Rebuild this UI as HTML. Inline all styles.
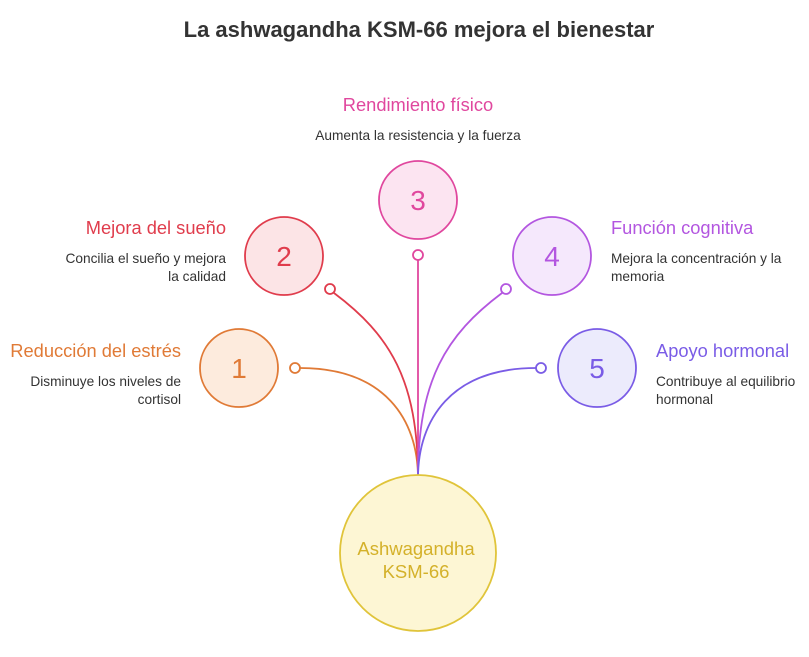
<!DOCTYPE html>
<html><head><meta charset="utf-8"><style>
body{margin:0;background:#fff;}
svg text{font-family:"Liberation Sans",Arial,sans-serif;}
</style></head><body>
<svg width="809" height="652" viewBox="0 0 809 652" xmlns="http://www.w3.org/2000/svg">
<text x="419" y="37" text-anchor="middle" font-size="22" font-weight="bold" fill="#333">La ashwagandha KSM-66 mejora el bienestar</text>
<g fill="none" stroke-width="1.8">
<path d="M300,368 C385,368 418,420 418,478" stroke="#e07a36"/>
<path d="M334,293 C390,335 418,380 418,478" stroke="#e03c4c"/>
<path d="M418,260 L418,478" stroke="#e0479e"/>
<path d="M502,293 C446,335 418,380 418,478" stroke="#b356e0"/>
<path d="M536,368 C451,368 418,420 418,478" stroke="#7a5ce6"/>
</g>
<circle cx="295" cy="368" r="5" fill="#fff" stroke="#e07a36" stroke-width="1.8"/>
<circle cx="330" cy="289" r="5" fill="#fff" stroke="#e03c4c" stroke-width="1.8"/>
<circle cx="418" cy="255" r="5" fill="#fff" stroke="#e0479e" stroke-width="1.8"/>
<circle cx="506" cy="289" r="5" fill="#fff" stroke="#b356e0" stroke-width="1.8"/>
<circle cx="541" cy="368" r="5" fill="#fff" stroke="#7a5ce6" stroke-width="1.8"/>
<circle cx="239" cy="368" r="39" fill="#fdebdd" stroke="#e07a36" stroke-width="1.8"/>
<circle cx="284" cy="256" r="39" fill="#fce4e6" stroke="#e03c4c" stroke-width="1.8"/>
<circle cx="418" cy="200" r="39" fill="#fce4f1" stroke="#e0479e" stroke-width="1.8"/>
<circle cx="552" cy="256" r="39" fill="#f5e8fc" stroke="#b356e0" stroke-width="1.8"/>
<circle cx="597" cy="368" r="39" fill="#ecebfc" stroke="#7a5ce6" stroke-width="1.8"/>
<circle cx="418" cy="553" r="78" fill="#fdf6d4" stroke="#e0c43a" stroke-width="1.8"/>
<g font-size="28" text-anchor="middle">
<text x="239" y="378" fill="#e07a36">1</text>
<text x="284" y="266" fill="#e03c4c">2</text>
<text x="418" y="210" fill="#e0479e">3</text>
<text x="552" y="266" fill="#b356e0">4</text>
<text x="597" y="378" fill="#7a5ce6">5</text>
</g>
<g font-size="18.5" fill="#d4b12a" text-anchor="middle">
<text x="416" y="555">Ashwagandha</text>
<text x="416" y="578">KSM-66</text>
</g>
<g font-size="18.3">
<text x="181" y="357" text-anchor="end" fill="#e07a36">Reducción del estrés</text>
<text x="226" y="234" text-anchor="end" fill="#e03c4c">Mejora del sueño</text>
<text x="418" y="111" text-anchor="middle" fill="#e0479e">Rendimiento físico</text>
<text x="611" y="234" fill="#b356e0">Función cognitiva</text>
<text x="656" y="357" fill="#7a5ce6">Apoyo hormonal</text>
</g>
<g font-size="13.7" fill="#333">
<text x="181" y="386" text-anchor="end">Disminuye los niveles de</text>
<text x="181" y="404" text-anchor="end">cortisol</text>
<text x="226" y="263" text-anchor="end">Concilia el sueño y mejora</text>
<text x="226" y="281" text-anchor="end">la calidad</text>
<text x="418" y="140" text-anchor="middle">Aumenta la resistencia y la fuerza</text>
<text x="611" y="263">Mejora la concentración y la</text>
<text x="611" y="281">memoria</text>
<text x="656" y="386">Contribuye al equilibrio</text>
<text x="656" y="404">hormonal</text>
</g>
</svg>
</body></html>
